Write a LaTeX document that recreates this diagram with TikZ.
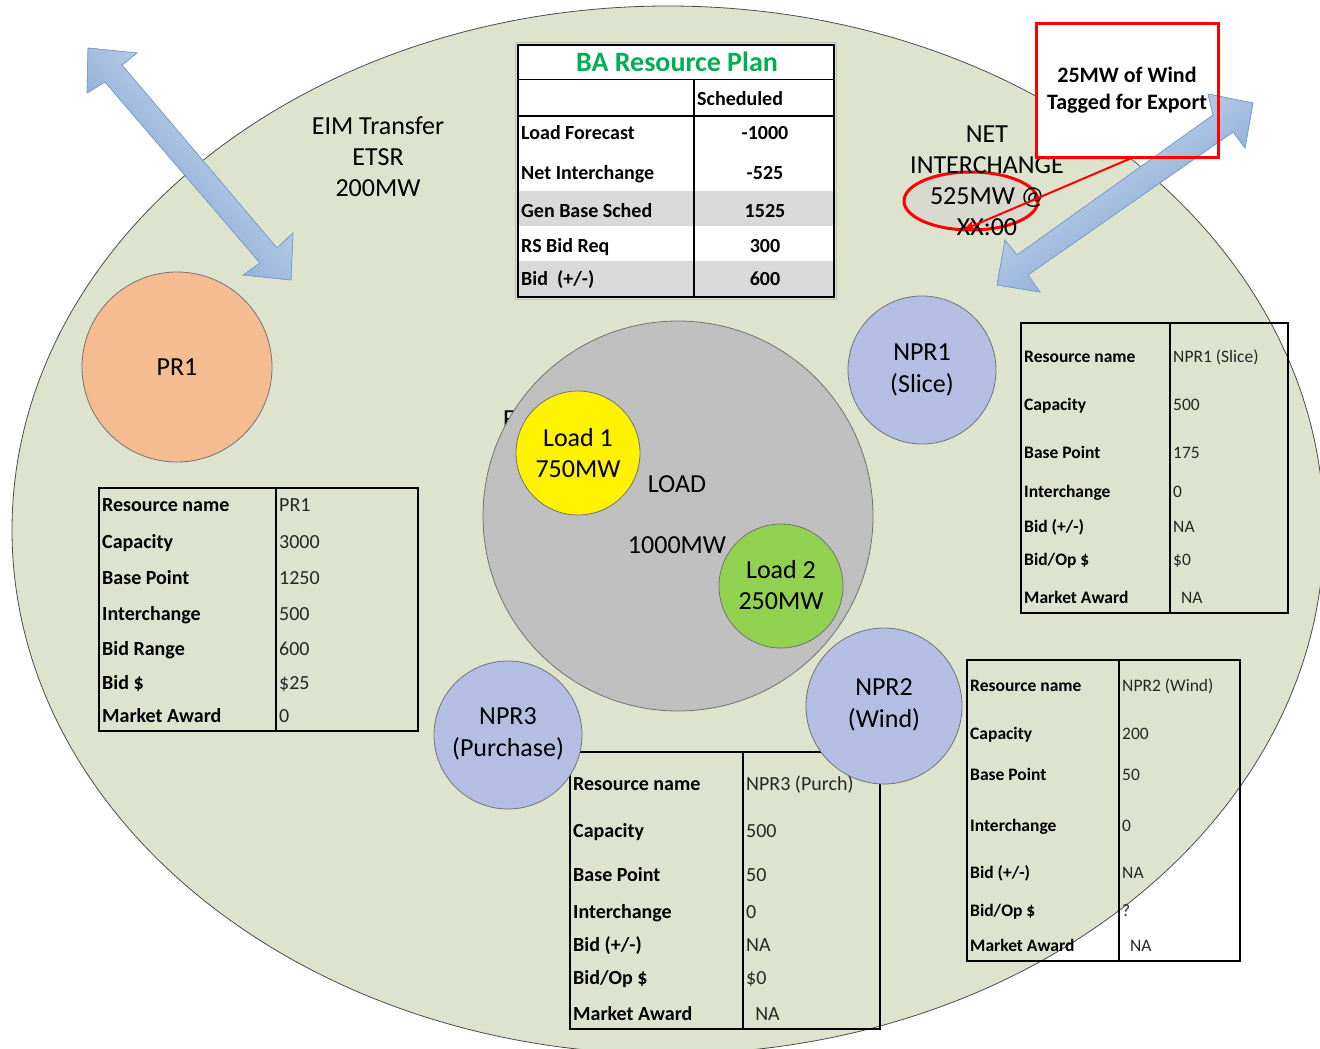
\documentclass[tikz,border=0pt]{standalone}
\usepackage{fontspec}
\setmainfont{Carlito}
\usetikzlibrary{arrows.meta,calc,shapes.geometric}
\definecolor{ellbg}{RGB}{222,227,206}
\definecolor{peach}{RGB}{245,188,146}
\definecolor{lav}{RGB}{180,190,226}
\definecolor{loadgray}{RGB}{191,191,191}
\definecolor{ldgreen}{RGB}{146,208,80}
\definecolor{titlegreen}{RGB}{0,176,80}
\definecolor{rowgray}{RGB}{217,217,217}
\definecolor{netfill}{RGB}{216,218,208}
\definecolor{bluedark}{RGB}{112,152,204}
\definecolor{bluelight}{RGB}{218,228,242}
\definecolor{bluedge}{RGB}{120,162,212}
\newcommand{\BidPM}{Bid (+/-)}
\newcommand{\BidOp}{Bid/Op \$}
\tikzset{
 big/.style={font=\fontsize{26}{31}\selectfont, align=center, text=black},
 lbl/.style={anchor=west, inner sep=0pt, text height=14pt, text depth=4pt, font=\bfseries\fontsize{20}{22}\selectfont},
 vall/.style={anchor=west, inner sep=0pt, text height=14pt, text depth=4pt, font=\fontsize{20}{22}\selectfont, text=black!85},
 slbl/.style={lbl, font=\bfseries\fontsize{17.5}{19}\selectfont},
 svall/.style={vall, font=\fontsize{17.5}{19}\selectfont},
 balbl/.style={lbl, font=\bfseries\fontsize{20}{22}\selectfont},
 baval/.style={anchor=center, inner sep=0pt, text height=14pt, text depth=4pt, font=\bfseries\fontsize{20}{22}\selectfont},
 tbl/.style={draw=black, line width=1.2pt},
 res/.style={circle, draw=black!55, line width=0.8pt, inner sep=0pt},
 blu/.style={draw=bluedge, line width=0.8pt, top color=bluelight, bottom color=bluedark},
}
\begin{document}
\begin{tikzpicture}[x=1pt,y=-1pt]
\path[use as bounding box] (0,0) rectangle (1320,1049);
\clip (0,0) rectangle (1320,1049);
\fill[white] (0,0) rectangle (1320,1049);
% big ellipse
\draw[fill=ellbg, draw=black!70, line width=0.8pt] (668,530) ellipse [x radius=656pt, y radius=524pt];

% EIM text
\node[big] (eim) at (378,157) {EIM Transfer\\ETSR\\200MW};

% BA resource plan table
\fill[white] (518,45) rectangle (834,297);
\fill[rowgray] (518,191) rectangle (834,226);
\fill[rowgray] (518,261) rectangle (834,297);
\draw[line width=1.6pt] (518,79.5) -- (834,79.5);
\draw[line width=2.6pt] (518,116) -- (834,116);
\draw[line width=1.6pt] (694,80) -- (694,297);
\draw[draw=black!25, line width=1.5pt] (515.5,42.5) rectangle (836.5,299.5);
\draw[line width=2pt] (518,45) rectangle (834,297);
\node[font=\bfseries\fontsize{28}{30}\selectfont, text=titlegreen] (batitle) at (677,62) {BA Resource Plan};
\node[balbl] (bahead) at (697,100) {Scheduled};
\foreach \yy/\ll/\vv [count=\i] in {134/Load Forecast/-1000, 174/Net Interchange/-525, 212/Gen Base Sched/1525, 247/RS Bid Req/300, 280/{Bid\ \ (+/-)}/600}{
  \node[balbl] (bal\i) at (521,\yy) {\ll};
  \node[baval] (bav\i) at (765,\yy) {\vv};
}

% net interchange
\node[ellipse, draw=red, line width=3pt, fill=netfill, minimum width=134pt, minimum height=58pt] (netell) at (971,201) {};
\node[big] (nettxt) at (987,181) {NET\\INTERCHANGE\\525MW @\\XX:00};

% red box
\node[fill=white, minimum width=181pt, minimum height=133pt, inner sep=0pt] (redbox) at (1127.5,90.5) {};
\node[font=\bfseries\fontsize{22}{27}\selectfont, align=center] (redtxt) at (1127,90) {25MW of Wind\\Tagged for Export};
\coordinate (rtip) at (963,230);
\draw[red, line width=2pt, -{Stealth[length=13pt,width=10pt]}] ([xshift=6pt]redbox.south) -- (rtip);

% blue double arrows
\filldraw[blu, shading angle=-49] (88,48) -- (137,53) -- (122,65) -- (277,248) -- (293,233) -- (291,280) -- (243,275) -- (260,263) -- (105,82) -- (87,93) -- cycle;
\filldraw[blu, shading angle=35] (997,285) -- (1005,240) -- (1017,255) -- (1213,115) -- (1208,94) -- (1253,103) -- (1245,148) -- (1233,132) -- (1028,275) -- (1040,292) -- cycle;
\draw[red, line width=3pt] (redbox.south west) rectangle (redbox.north east);

% PR1 table
\draw[tbl] (99,488) rectangle (418,731);
\draw[tbl] (276,488) -- (276,731);
\foreach \yy/\ll/\vv [count=\i] in {506/Resource name/PR1, 543/Capacity/3000, 579/Base Point/1250, 615/Interchange/500, 650/Bid Range/600, 684/Bid \$/\$25, 717/Market Award/0}{
  \node[lbl] (pra\i) at (102,\yy) {\ll};
  \node[vall] (prb\i) at (279,\yy) {\vv};
}

% NPR1 table
\draw[tbl] (1021,323) rectangle (1288,613);
\draw[tbl] (1170,323) -- (1170,613);
\foreach \yy/\ll/\vv [count=\i] in {357/Resource name/NPR1 (Slice), 405/Capacity/500, 453/Base Point/175, 492/Interchange/0, 527/\BidPM/NA, 560/\BidOp/\$0, 598/Market Award/\ \ NA}{
  \node[slbl] (naa\i) at (1024,\yy) {\ll};
  \node[svall] (nab\i) at (1173,\yy) {\vv};
}

% NPR2 table
\draw[tbl] (967,660) rectangle (1240,961);
\draw[tbl] (1119,660) -- (1119,961);
\foreach \yy/\ll/\vv [count=\i] in {686/Resource name/NPR2 (Wind), 734/Capacity/200, 775/Base Point/50, 826/Interchange/0, 873/\BidPM/NA, 911/\BidOp/?, 946/Market Award/\ \ NA}{
  \node[slbl] (nba\i) at (970,\yy) {\ll};
  \node[svall] (nbb\i) at (1122,\yy) {\vv};
}

% NPR3 table
\draw[tbl] (570,752) rectangle (880,1029);
\draw[tbl] (743,752) -- (743,1029);
\foreach \yy/\ll/\vv [count=\i] in {785/Resource name/NPR3 (Purch), 832/Capacity/500, 876/Base Point/50, 913/Interchange/0, 946/\BidPM/NA, 979/\BidOp/\$0, 1015/Market Award/\ \ NA}{
  \node[lbl] (nca\i) at (573,\yy) {\ll};
  \node[vall] (ncb\i) at (746,\yy) {\vv};
}

% PR1 circle
\node[res, fill=peach, minimum size=190pt] (pr1) at (177,367) {};
\node[big] (pr1t) at (177,367) {PR1};

% load circles
\node[big, anchor=base west, inner sep=0pt] (hidf) at (503,427) {F};
\node[res, fill=loadgray, minimum size=390pt] (loadc) at (678,516) {};
\node[res, fill=yellow, minimum size=124pt] (load1) at (578,453) {};
\node[big] (load1t) at (578,453) {Load 1\\750MW};
\node[res, fill=ldgreen, minimum size=124pt] (load2) at (781,586) {};
\node[big] (load2t) at (781,585) {Load 2\\250MW};
\node[big] (loadt) at (677,484) {LOAD};
\node[big] (loadmw) at (677,545) {1000MW};

% NPR circles
\node[res, fill=lav, minimum size=148pt] (npr1) at (922,370) {};
\node[big, font=\fontsize{26}{32}\selectfont] (npr1t) at (922,370) {NPR1\\(Slice)};
\node[res, fill=lav, minimum size=156pt] (npr2) at (884,706) {};
\node[big, font=\fontsize{26}{32}\selectfont] (npr2t) at (884,705) {NPR2\\(Wind)};
\node[res, fill=lav, minimum size=148pt] (npr3) at (508,735) {};
\node[big, font=\fontsize{26}{32}\selectfont] (npr3t) at (508,734) {NPR3\\(Purchase)};
\end{tikzpicture}
\end{document}
